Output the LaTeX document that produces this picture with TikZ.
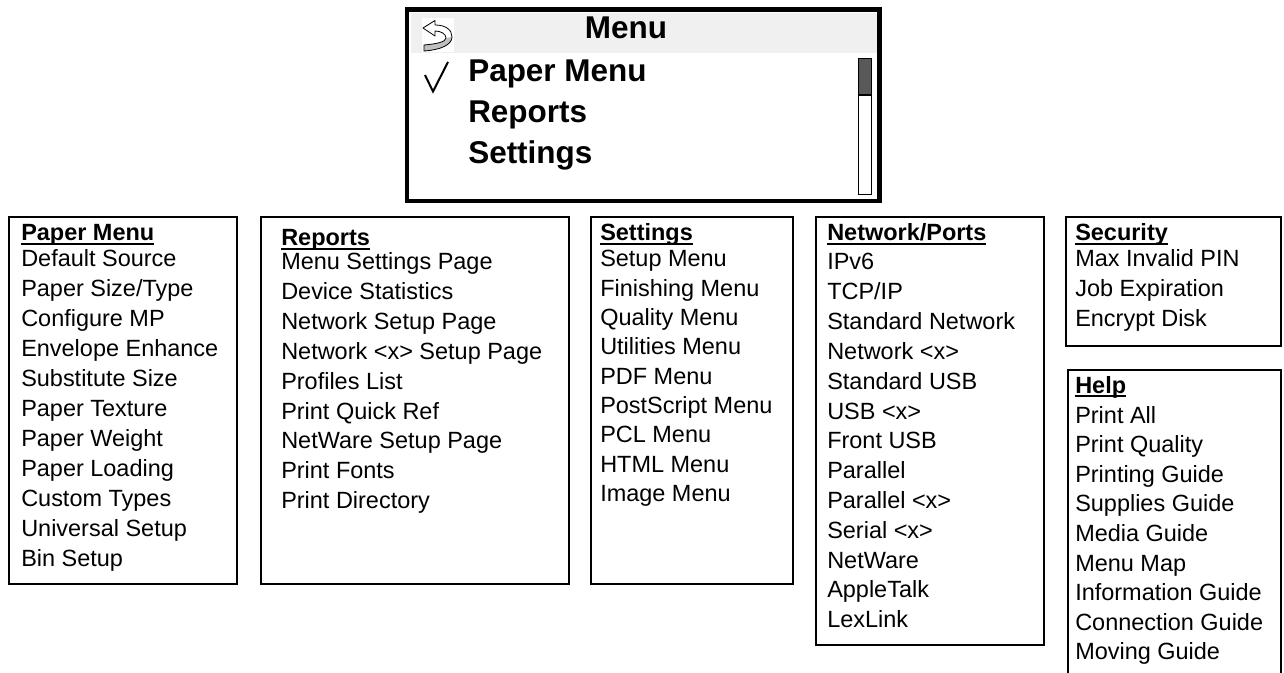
\documentclass[tikz,border=0pt]{standalone}
\usepackage{fontspec}
\setmainfont{Liberation Sans}
\usepackage{tikz}
\usetikzlibrary{positioning}
\newcommand{\hdline}[1]{\setbox0\hbox{#1}\rlap{\vrule height -1.8pt depth 3.2pt width \wd0}\box0}

\begin{document}
\begin{tikzpicture}[x=0.75pt,y=-0.75pt,
  listbox/.style={line width=2pt},
  head/.style={anchor=base west,inner sep=0pt,font=\fontsize{17.6}{20}\selectfont\bfseries},
  entry/.style={anchor=base west,inner sep=0pt,font=\fontsize{17.6}{20}\selectfont},
  menuitem/.style={anchor=base west,inner sep=0pt,font=\fontsize{23.6}{28}\selectfont\bfseries}]
\useasboundingbox (0,0) rectangle (1284,673);

% display
\fill[black!6] (410.5,13) rectangle (877.5,53);
\fill[white] (421.5,18) rectangle (453.5,52.5);
\draw[line width=3.2pt] (407.2,9.5) rectangle (879.5,201);
\node[anchor=base,inner sep=0pt,font=\fontsize{23.6}{28}\selectfont\bfseries] (title) at (626,38.5) {Menu};
% back icon
\fill[white] (423,28) -- (435,20.5) -- (435,25) .. controls (446,25) and (452,30) .. (452,37)
  .. controls (452,45) and (440,50) .. (424,51) -- (424,45) .. controls (436,44) and (446,42) .. (446,38)
  .. controls (446,34) and (441,31) .. (435,31) -- (435,36) -- cycle;
\fill[black!25] (452,37) .. controls (452,45) and (440,50) .. (424,51) -- (424,45)
  .. controls (436,44) and (446,42) .. (446,38) -- cycle;
\draw[line width=0.6pt,line join=round] (423,28) -- (435,20.5) -- (435,25) .. controls (446,25) and (452,30) .. (452,37)
  .. controls (452,45) and (440,50) .. (424,51) -- (424,45) .. controls (436,44) and (446,42) .. (446,38)
  .. controls (446,34) and (441,31) .. (435,31) -- (435,36) -- cycle;
% check mark
\draw[line width=1.5pt,line join=miter] (425,75) -- (433,91.5) -- (448,62);
\node[menuitem] (mpaper) at (468,81.7) {Paper Menu};
\node[menuitem] (mreports) at (468,122.7) {Reports};
\node[menuitem] (msettings) at (468,164) {Settings};
% scroll bar
\fill[black!65] (858.5,58.5) rectangle (871.5,95);
\draw[line width=1.1pt] (858.5,58.5) rectangle (871.5,194.5);
\draw[line width=1.1pt] (858.5,95) -- (871.5,95);

% Paper Menu
\draw[listbox] (9,217) rectangle (237,584);
\node[head] (paperhead) at (21,241) {\hdline{Paper Menu}};
\foreach \t [count=\i] in {Default Source,Paper Size/Type,Configure MP,Envelope Enhance,
  Substitute Size,Paper Texture,Paper Weight,Paper Loading,Custom Types,Universal Setup,Bin Setup}
  \node[entry] (paper\i) at (21,{267+29.9*(\i-1)}) {\t};

% Reports
\draw[listbox] (261,217) rectangle (569,584);
\node[head] (reportshead) at (281,246) {\hdline{Reports}};
\foreach \t [count=\i] in {Menu Settings Page,Device Statistics,Network Setup Page,
  Network <x> Setup Page,Profiles List,Print Quick Ref,NetWare Setup Page,Print Fonts,Print Directory}
  \node[entry] (reports\i) at (281,{270+29.8*(\i-1)}) {\t};

% Settings
\draw[listbox] (591,217) rectangle (793,584);
\node[head] (settingshead) at (600,241) {\hdline{Settings}};
\foreach \t [count=\i] in {Setup Menu,Finishing Menu,Quality Menu,Utilities Menu,PDF Menu,
  PostScript Menu,PCL Menu,HTML Menu,Image Menu}
  \node[entry] (settings\i) at (600,{267+29.3*(\i-1)}) {\t};

% Network/Ports
\draw[listbox] (816,217) rectangle (1044,645);
\node[head] (networkhead) at (827,241) {\hdline{Network/Ports}};
\foreach \t [count=\i] in {IPv6,TCP/IP,Standard Network,Network <x>,Standard USB,USB <x>,
  Front USB,Parallel,Parallel <x>,Serial <x>,NetWare,AppleTalk,LexLink}
  \node[entry] (network\i) at (827,{270+29.8*(\i-1)}) {\t};

% Security
\draw[listbox] (1066,217) rectangle (1281,346);
\node[head] (securityhead) at (1075,241) {\hdline{Security}};
\foreach \t [count=\i] in {Max Invalid PIN,Job Expiration,Encrypt Disk}
  \node[entry] (security\i) at (1075,{267+29.5*(\i-1)}) {\t};

% Help
\draw[listbox] (1068,673) -- (1068,370) -- (1281,370) -- (1281,673);
\node[head] (helphead) at (1075,393) {\hdline{Help}};
\foreach \t [count=\i] in {Print All,Print Quality,Printing Guide,Supplies Guide,Media Guide,
  Menu Map,Information Guide,Connection Guide,Moving Guide}
  \node[entry] (help\i) at (1075,{423+29.6*(\i-1)}) {\t};
\end{tikzpicture}
\end{document}
